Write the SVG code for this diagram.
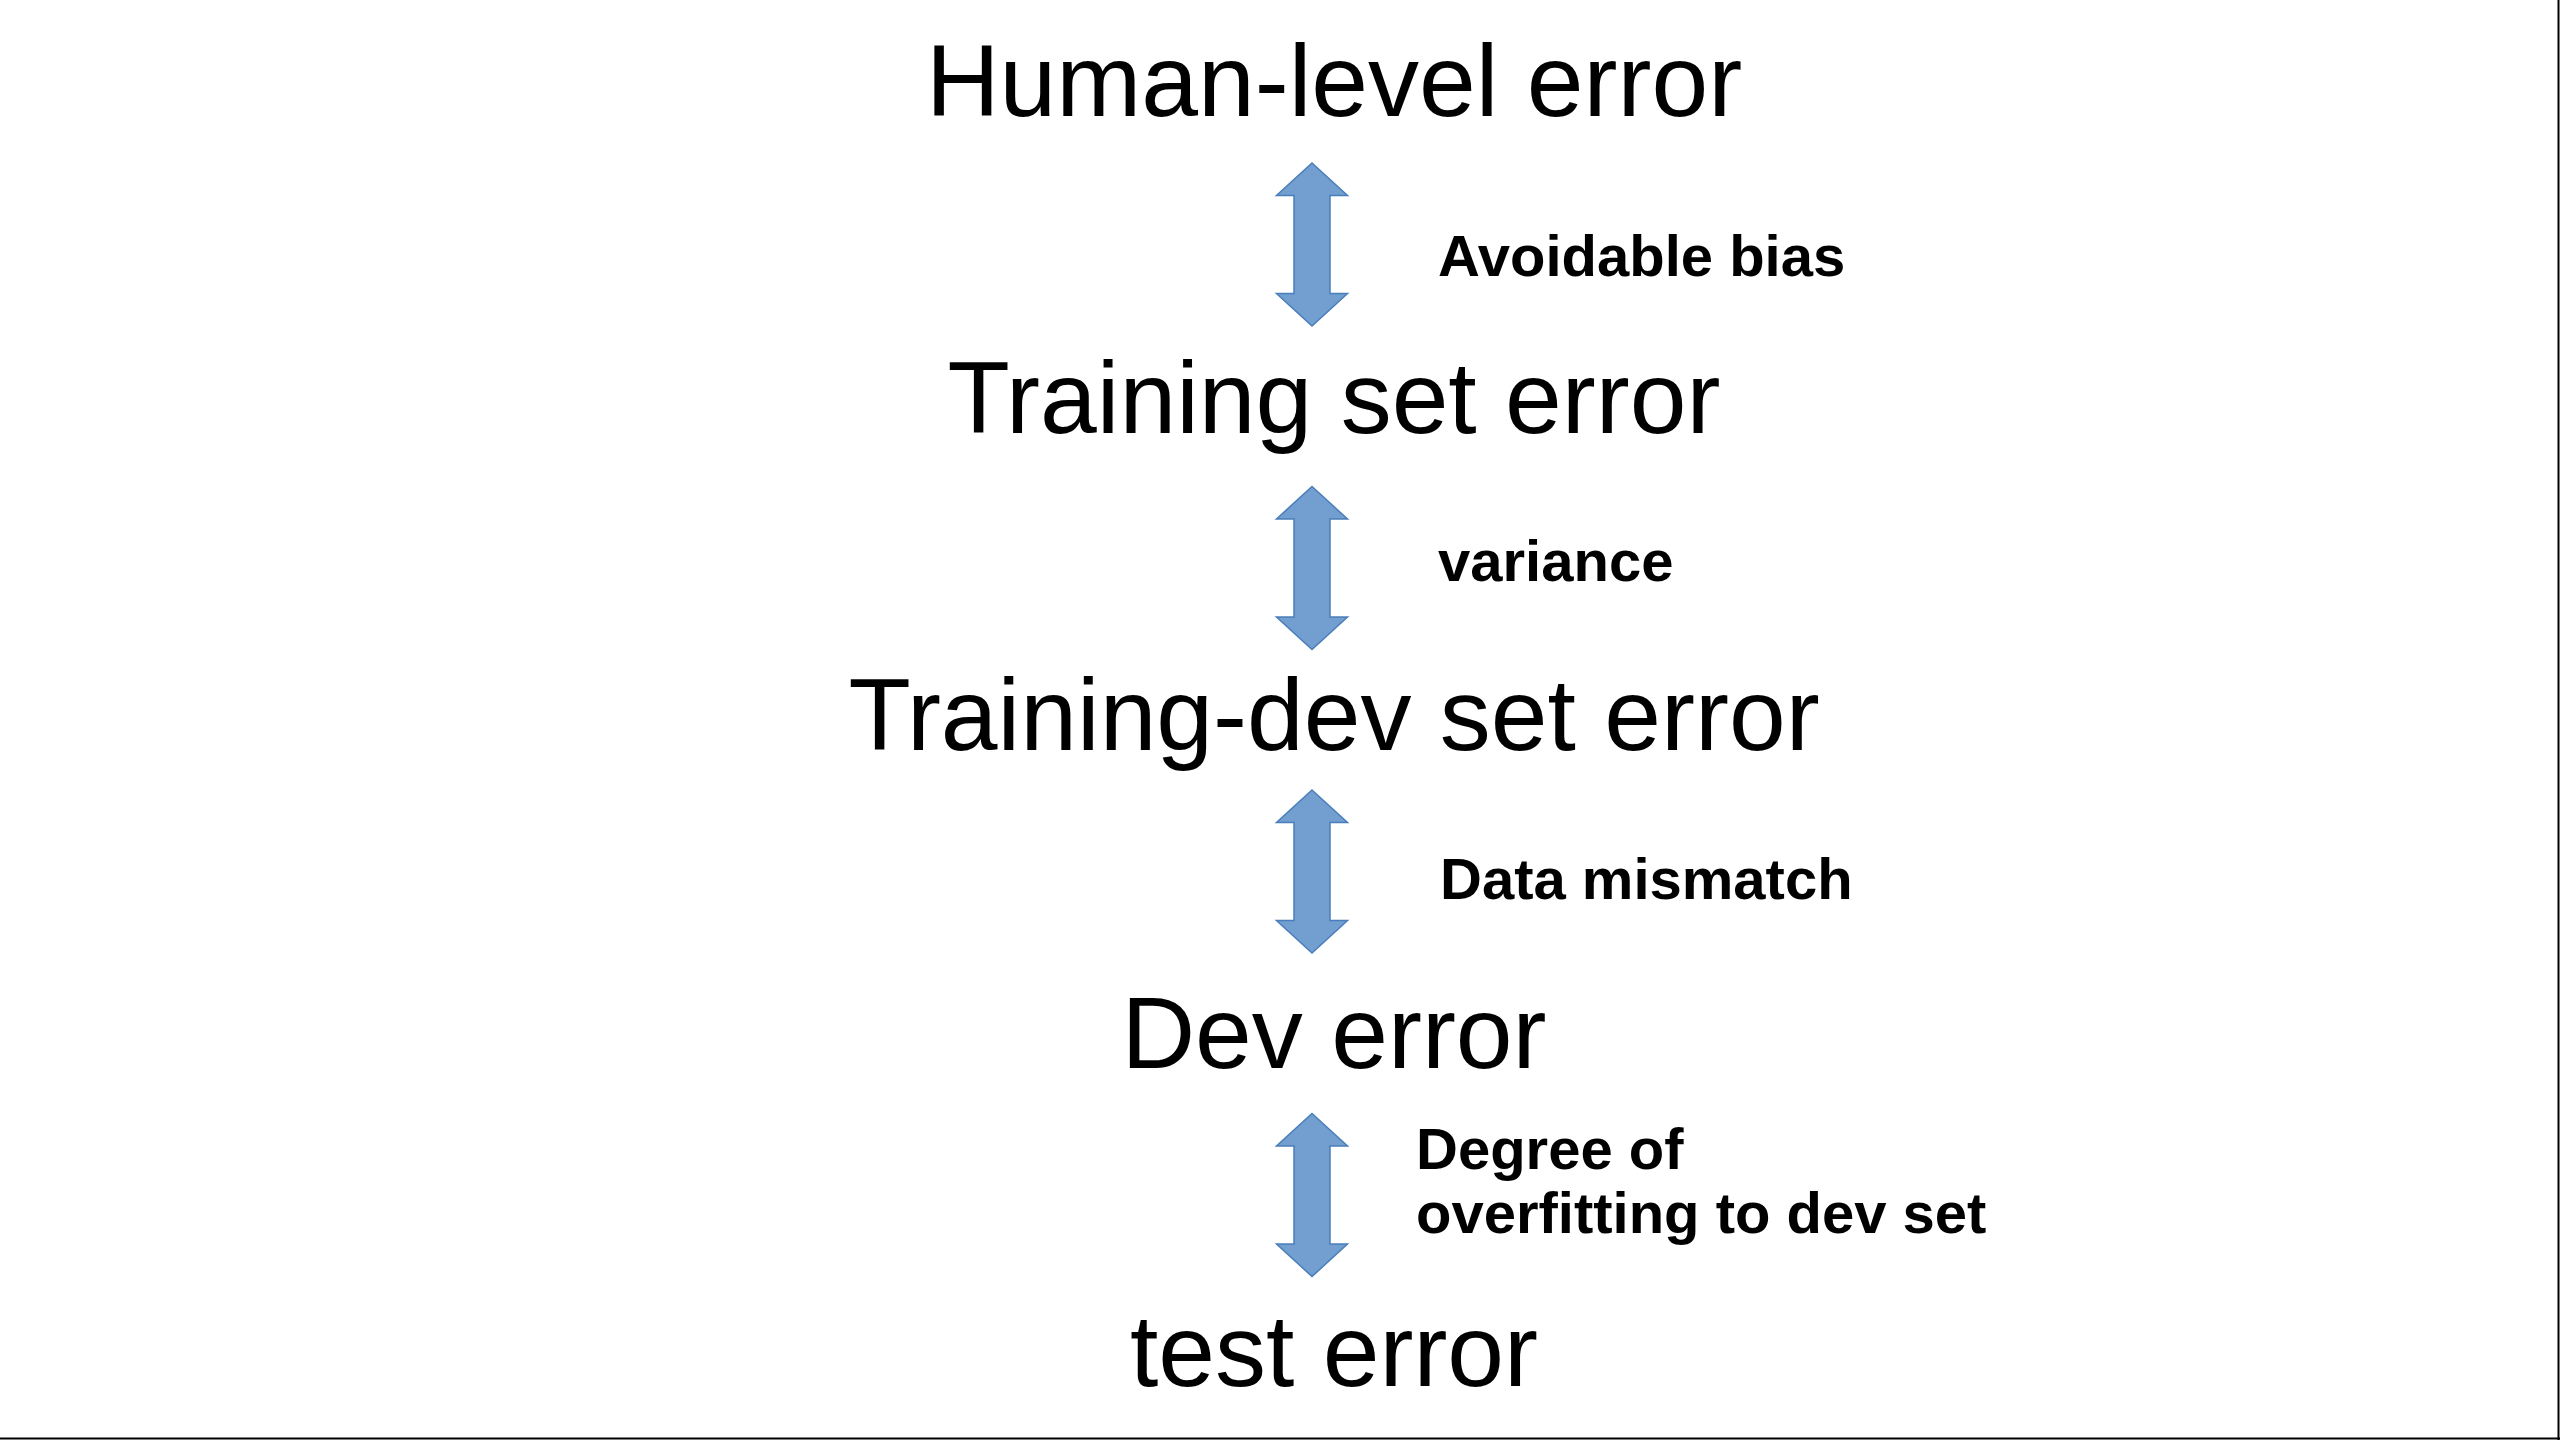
<svg xmlns="http://www.w3.org/2000/svg" width="2560" height="1440" viewBox="0 0 2560 1440">
<style>
.title{font-family:"Liberation Sans",Arial,sans-serif;font-size:102px;fill:#000;text-anchor:middle}
.lbl{font-family:"Liberation Sans",Arial,sans-serif;font-size:58px;font-weight:bold;fill:#000}
.arr{fill:#729fcf;stroke:#4a7ebb;stroke-width:1.5}
</style>
<defs>
<path id="dbl" d="M0,0 L35.5,32.5 L18,32.5 L18,130.5 L35.5,130.5 L0,163 L-35.5,130.5 L-18,130.5 L-18,32.5 L-35.5,32.5 Z"/>
</defs>
<rect x="0" y="0" width="2560" height="1440" fill="#fff"/>
<g id="border"><line x1="2558.5" y1="0" x2="2558.5" y2="1440" stroke="#000" stroke-width="2"/><line x1="0" y1="1438.5" x2="2560" y2="1438.5" stroke="#000" stroke-width="2"/></g>
<g id="n-human"><text class="title" x="1334" y="116">Human-level error</text></g>
<g id="n-train"><text class="title" x="1334" y="433">Training set error</text></g>
<g id="n-traindev"><text class="title" x="1334" y="750">Training-dev set error</text></g>
<g id="n-dev"><text class="title" x="1334" y="1068">Dev error</text></g>
<g id="n-test"><text class="title" x="1334" y="1386">test error</text></g>
<g id="connectors">
<use href="#dbl" class="arr" x="1312" y="163"/>
<use href="#dbl" class="arr" x="1312" y="486.5"/>
<use href="#dbl" class="arr" x="1312" y="790"/>
<use href="#dbl" class="arr" x="1312" y="1113.5"/>
<text class="lbl" x="1438" y="276">Avoidable bias</text>
<text class="lbl" x="1438" y="581">variance</text>
<text class="lbl" x="1440" y="899">Data mismatch</text>
<text class="lbl" x="1416" y="1169">Degree of</text>
<text class="lbl" x="1416" y="1233">overfitting to dev set</text>
</g>
</svg>
